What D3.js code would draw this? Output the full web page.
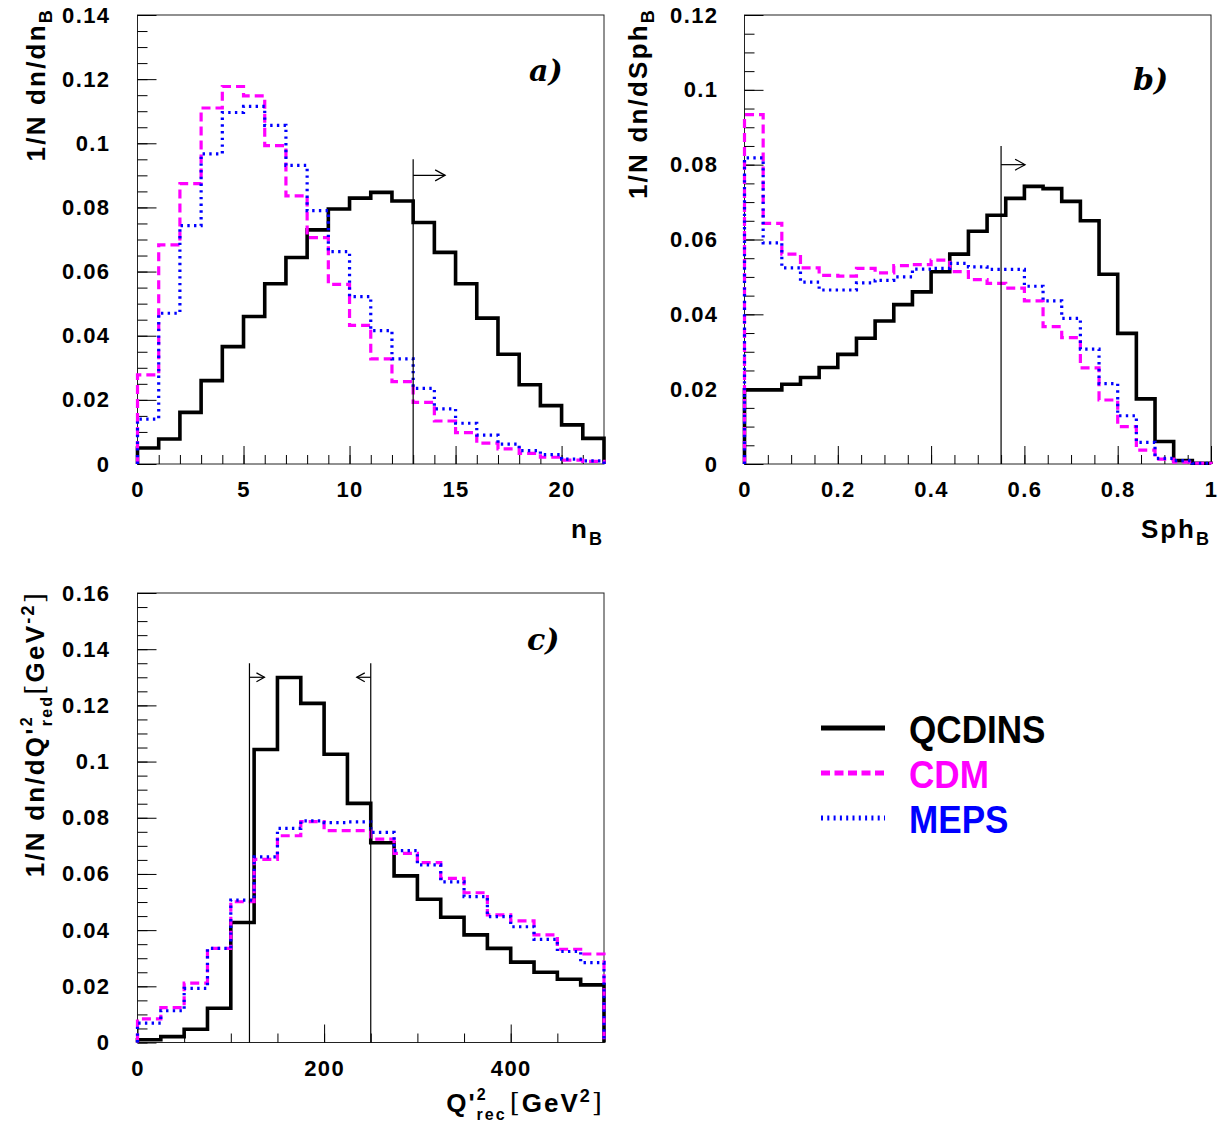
<!DOCTYPE html>
<html>
<head>
<meta charset="utf-8">
<script src="https://cdn.jsdelivr.net/npm/d3@7"></script>
<style>
  body { margin: 0; background: #fff; }
  svg { display: block; }
</style>
</head>
<body>
<script>
// ---- data ----
const seriesNames = ["QCDINS", "CDM", "MEPS"];

// a) n_B
const nbEdges = [0,1,2,3,4,5,6,7,8,9,10,11,12,13,14,15,16,17,18,19,20,21,22];
const nbQcdins = [0.005,0.0078,0.0161,0.026,0.0366,0.046,0.0562,0.0644,0.073,0.0795,0.0829,0.0847,0.082,0.0753,0.066,0.0562,0.0455,0.0342,0.0247,0.0182,0.0122,0.008];
const nbCdm    = [0.0278,0.0683,0.0874,0.111,0.1177,0.1148,0.0993,0.0836,0.0706,0.056,0.0432,0.0328,0.0257,0.0192,0.0134,0.0098,0.0065,0.0047,0.0033,0.0021,0.0012,0.0008];
const nbMeps   = [0.014,0.047,0.0743,0.0967,0.1096,0.1115,0.1056,0.0931,0.079,0.0662,0.0522,0.0416,0.0328,0.0236,0.0172,0.0127,0.009,0.0062,0.0042,0.0029,0.0015,0.001];
const nbXTicks = [0,5,10,15,20];
const nbYTicks = [0,0.02,0.04,0.06,0.08,0.1,0.12,0.14];
const nbCut = 13;

// b) Sph_B
const sphEdges = [0,0.04,0.08,0.12,0.16,0.2,0.24,0.28,0.32,0.36,0.4,0.44,0.48,0.52,0.56,0.6,0.64,0.68,0.72,0.76,0.8,0.84,0.88,0.92,0.96,1];
const sphQcdins = [0.0198,0.0198,0.0213,0.0231,0.0258,0.0293,0.0336,0.0382,0.0426,0.046,0.0514,0.0561,0.0622,0.0665,0.071,0.0742,0.0736,0.0702,0.065,0.0507,0.0349,0.0174,0.006,0.0009,0.0002];
const sphCdm    = [0.0934,0.0643,0.0561,0.0524,0.0504,0.0502,0.0523,0.0511,0.053,0.0533,0.0545,0.0514,0.0493,0.0483,0.047,0.0436,0.0367,0.0338,0.0257,0.0171,0.01,0.0037,0.0013,0.0005,0.0002];
const sphMeps   = [0.0818,0.0591,0.0524,0.0486,0.0465,0.0465,0.0484,0.0491,0.05,0.0521,0.0523,0.0536,0.0527,0.052,0.052,0.0475,0.0436,0.0389,0.0307,0.0215,0.0129,0.0058,0.0015,0.0009,0.0002];
const sphXTicks = [0,0.2,0.4,0.6,0.8,1];
const sphYTicks = [0,0.02,0.04,0.06,0.08,0.1,0.12];
const sphCut = 0.55;

// c) Q'^2_rec
const qEdges = [0,25,50,75,100,125,150,175,200,225,250,275,300,325,350,375,400,425,450,475,500];
const qQcdins = [0.001,0.0021,0.0047,0.0122,0.0427,0.1043,0.1299,0.1207,0.1026,0.0851,0.0711,0.0593,0.051,0.0446,0.0383,0.0335,0.0286,0.025,0.0225,0.0205];
const qCdm    = [0.0084,0.0124,0.0211,0.0335,0.0501,0.0652,0.0736,0.0786,0.0754,0.0754,0.0724,0.0673,0.064,0.0584,0.0533,0.0454,0.0433,0.0383,0.0332,0.0315];
const qMeps   = [0.0069,0.0113,0.0193,0.0335,0.0507,0.0661,0.0762,0.0789,0.0783,0.0785,0.0748,0.0683,0.0632,0.0572,0.0519,0.0448,0.0412,0.0367,0.0324,0.0284];
const qXTicks = [0,200,400];
const qYTicks = [0,0.02,0.04,0.06,0.08,0.1,0.12,0.14,0.16];
const qCuts = [120, 250];

// ---- styles ----
const styles = [
  { color: "#000000", width: 3.6, dash: null },
  { color: "#ff00ff", width: 3.2, dash: "9,5" },
  { color: "#0000ff", width: 3.2, dash: "2.4,4.3" }
];

const width = 1231, height = 1128;
const svg = d3.select("body").append("svg")
  .attr("width", width).attr("height", height)
  .style("font-family", "'Liberation Sans', Arial, sans-serif")
  .style("font-weight", "bold");

function drawPanel(o) {
  const x = d3.scaleLinear().domain(o.xDomain).range([o.left, o.right]);
  const y = d3.scaleLinear().domain(o.yDomain).range([o.bottom, o.top]);
  const g = svg.append("g");

  // frame
  g.append("rect").attr("x", o.left).attr("y", o.top)
    .attr("width", o.right - o.left).attr("height", o.bottom - o.top)
    .attr("fill", "none").attr("stroke", "#222").attr("stroke-width", 1);

  // y axis: major + minor ticks inward
  const yAx = g.append("g").attr("transform", `translate(${o.left},0)`)
    .call(d3.axisLeft(y).tickValues(o.yTicks).tickSize(-19).tickPadding(o.yPad).tickFormat(d => String(d)));
  yAx.append("g").call(d3.axisLeft(y).tickValues(o.yMinor).tickSize(-10).tickFormat(""));
  yAx.selectAll(".domain").remove();
  yAx.selectAll("text").attr("font-size", 22).attr("font-family", null)
    .style("letter-spacing", "1.4px").attr("fill", "#000");
  yAx.attr("font-family", null).attr("font-size", null);

  // x axis
  const xAx = g.append("g").attr("transform", `translate(0,${o.bottom})`)
    .call(d3.axisBottom(x).tickValues(o.xTicks).tickSize(-18).tickPadding(0).tickFormat(d => String(d)));
  xAx.append("g").call(d3.axisBottom(x).tickValues(o.xMinor).tickSize(-9).tickFormat(""));
  xAx.selectAll(".domain").remove();
  xAx.selectAll("text").attr("font-size", 22).attr("y", 33).attr("dy", null)
    .style("letter-spacing", "1.4px").attr("fill", "#000");
  xAx.attr("font-family", null).attr("font-size", null);

  // histograms
  const line = d3.line().x(d => x(d[0])).y(d => y(d[1])).curve(d3.curveStepAfter);
  o.series.forEach((vals, i) => {
    const e = o.edges;
    const pts = [[e[0], 0]]
      .concat(vals.map((v, k) => [e[k], v]))
      .concat([[e[e.length - 1], vals[vals.length - 1]], [e[e.length - 1], 0]]);
    const s = styles[i];
    g.append("path").attr("d", line(pts))
      .attr("fill", "none").attr("stroke", s.color)
      .attr("stroke-width", s.width)
      .attr("stroke-dasharray", s.dash)
      .attr("stroke-linejoin", "miter");
  });

  // cut lines with arrows
  o.cuts.forEach(c => {
    const cx = x(c.value);
    g.append("line").attr("x1", cx).attr("x2", cx)
      .attr("y1", y(c.top)).attr("y2", o.bottom)
      .attr("stroke", "#000").attr("stroke-width", 1.2);
    const ay = y(c.arrowAt), tip = cx + c.dir * c.len;
    g.append("line").attr("x1", cx).attr("x2", tip).attr("y1", ay).attr("y2", ay)
      .attr("stroke", "#000").attr("stroke-width", 1.2);
    g.append("path")
      .attr("d", `M${tip - c.dir * c.head},${ay - c.head * 0.55}L${tip},${ay}L${tip - c.dir * c.head},${ay + c.head * 0.55}`)
      .attr("fill", "none").attr("stroke", "#000").attr("stroke-width", 1.2);
  });

  // panel label
  g.append("text").attr("x", o.label.x).attr("y", o.label.y)
    .attr("font-family", "'DejaVu Serif', serif").attr("font-style", "italic")
    .attr("font-size", 30).attr("font-weight", "bold").text(o.label.text);

  return { x, y, g };
}

const minorRange = (a, b, step) => d3.range(Math.round((b - a) / step) + 1).map(i => +(a + i * step).toFixed(6));

drawPanel({
  left: 137.5, right: 604, top: 15, bottom: 464,
  xDomain: [0, 22], yDomain: [0, 0.14],
  xTicks: nbXTicks, xMinor: minorRange(0, 22, 1),
  yTicks: nbYTicks, yMinor: minorRange(0, 0.14, 0.005), yPad: 27,
  edges: nbEdges, series: [nbQcdins, nbCdm, nbMeps],
  cuts: [{ value: nbCut, top: 0.095, arrowAt: 0.09, dir: 1, len: 32, head: 10 }],
  label: { x: 529, y: 81, text: "a)" }
});

drawPanel({
  left: 744.5, right: 1211, top: 15, bottom: 464,
  xDomain: [0, 1], yDomain: [0, 0.12],
  xTicks: sphXTicks, xMinor: minorRange(0, 1, 0.05),
  yTicks: sphYTicks, yMinor: minorRange(0, 0.12, 0.005), yPad: 26,
  edges: sphEdges, series: [sphQcdins, sphCdm, sphMeps],
  cuts: [{ value: sphCut, top: 0.085, arrowAt: 0.08, dir: 1, len: 24, head: 10 }],
  label: { x: 1133, y: 90, text: "b)" }
});

drawPanel({
  left: 137.5, right: 604, top: 593, bottom: 1042.5,
  xDomain: [0, 500], yDomain: [0, 0.16],
  xTicks: qXTicks, xMinor: minorRange(0, 500, 50),
  yTicks: qYTicks, yMinor: minorRange(0, 0.16, 0.005), yPad: 27,
  edges: qEdges, series: [qQcdins, qCdm, qMeps],
  cuts: [
    { value: qCuts[0], top: 0.135, arrowAt: 0.13, dir: 1, len: 15, head: 8 },
    { value: qCuts[1], top: 0.135, arrowAt: 0.13, dir: -1, len: 14, head: 8 }
  ],
  label: { x: 527, y: 650, text: "c)" }
});

// ---- axis titles ----
const titleSize = 26, subSize = 18, stackSize = 16;

function yTitle(tx, ty, build) {
  const t = svg.append("text")
    .attr("transform", `translate(${tx},${ty}) rotate(-90)`)
    .attr("text-anchor", "end").attr("font-size", titleSize)
    .style("letter-spacing", "2.2px");
  build(t);
}
function xTitle(tx, ty, build) {
  const t = svg.append("text").attr("x", tx).attr("y", ty)
    .attr("text-anchor", "end").attr("font-size", titleSize)
    .style("letter-spacing", "2px");
  build(t);
}

yTitle(45, 8, t => {
  t.append("tspan").text("1/N dn/dn");
  t.append("tspan").attr("font-size", subSize).attr("dy", 7).text("B");
});
yTitle(647, 8, t => {
  t.append("tspan").text("1/N dn/dSph");
  t.append("tspan").attr("font-size", subSize).attr("dy", 7).text("B");
});
yTitle(44, 591, t => {
  t.append("tspan").text("1/N dn/dQ'");
  t.append("tspan").attr("font-size", stackSize).attr("dy", -12).text("2");
  t.append("tspan").attr("font-size", stackSize).attr("dx", -11).attr("dy", 20).text("red");
  t.append("tspan").attr("font-weight", "normal").attr("font-family", "'DejaVu Serif', serif").attr("dy", -8).text("[");
  t.append("tspan").text("GeV");
  t.append("tspan").attr("font-size", subSize).attr("dy", -10).text("-2");
  t.append("tspan").attr("font-weight", "normal").attr("font-family", "'DejaVu Serif', serif").attr("dy", 10).text("]");
});

xTitle(604, 538, t => {
  t.append("tspan").text("n");
  t.append("tspan").attr("font-size", subSize).attr("dy", 7).text("B");
});
xTitle(1211, 538, t => {
  t.append("tspan").text("Sph");
  t.append("tspan").attr("font-size", subSize).attr("dy", 7).text("B");
});
xTitle(604, 1112, t => {
  t.append("tspan").text("Q'");
  t.append("tspan").attr("font-size", stackSize).attr("dy", -12).text("2");
  t.append("tspan").attr("font-size", stackSize).attr("dx", -11).attr("dy", 20).text("rec");
  t.append("tspan").attr("font-weight", "normal").attr("font-family", "'DejaVu Serif', serif").attr("dx", 3).attr("dy", -8).text("[");
  t.append("tspan").text("GeV");
  t.append("tspan").attr("font-size", subSize).attr("dy", -10).text("2");
  t.append("tspan").attr("font-weight", "normal").attr("font-family", "'DejaVu Serif', serif").attr("dy", 10).text("]");
});

// ---- legend ----
const legend = svg.append("g").attr("transform", "translate(821,728)");
const items = legend.selectAll("g").data(seriesNames).join("g")
  .attr("transform", (d, i) => `translate(0,${i * 45})`);
items.append("line").attr("x1", 0).attr("x2", 64).attr("y1", 0).attr("y2", 0)
  .attr("stroke", (d, i) => styles[i].color).attr("stroke-width", 5)
  .attr("stroke-dasharray", (d, i) => [null, "9,4.5", "2,4.3"][i]);
items.append("text")
  .attr("transform", "translate(88,15) scale(0.9,1)")
  .attr("font-size", 39).attr("fill", (d, i) => styles[i].color)
  .text(d => d);
</script>
</body>
</html>
